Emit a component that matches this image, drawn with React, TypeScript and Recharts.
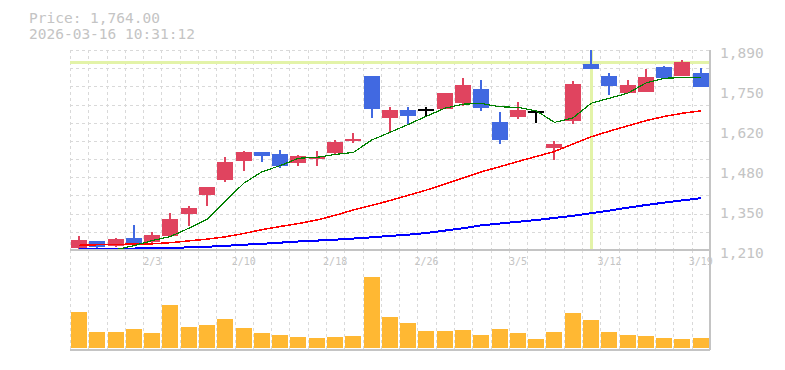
import React from 'react';
import { ComposedChart, Bar, Line, XAxis, YAxis, CartesianGrid, ReferenceLine } from 'recharts';

const dates = ['1/28','1/29','1/30','2/2','2/3','2/4','2/5','2/6','2/9','2/10','2/12','2/13','2/16','2/17','2/18','2/19','2/20','2/24','2/25','2/26','2/27','3/2','3/3','3/4','3/5','3/6','3/9','3/10','3/11','3/12','3/13','3/16','3/17','3/18','3/19'];
const opens = [1218,1241,1225,1251,1238,1259,1333,1398,1449,1514,1543,1536,1507,1520,1541,1582,1802,1660,1686,1686,1689,1711,1757,1645,1663,1679,1558,1650,1842,1802,1745,1748,1832,1803,1812];
const highs = [1258,1241,1251,1295,1271,1336,1361,1424,1526,1547,1543,1550,1533,1547,1584,1608,1802,1695,1695,1695,1745,1796,1788,1679,1713,1684,1581,1785,1890,1812,1788,1825,1836,1856,1829];
const lows = [1210,1212,1221,1235,1235,1255,1292,1361,1442,1480,1510,1490,1497,1497,1533,1575,1660,1612,1636,1665,1689,1701,1684,1571,1656,1643,1517,1639,1826,1737,1745,1748,1791,1803,1764];
const closes = [1244,1221,1247,1235,1261,1315,1354,1424,1509,1543,1531,1497,1530,1527,1577,1588,1690,1686,1667,1686,1745,1772,1694,1585,1687,1679,1570,1775,1826,1768,1771,1798,1796,1849,1764];
const ma5 = [null,null,1211,1225,1242,1256,1284,1315,1376,1437,1476,1497,1522,1525,1535,1542,1584,1610,1637,1665,1692,1706,1708,1697,1695,1683,1644,1659,1709,1726,1743,1778,1794,1796,1797];
const ma25 = [1226,1228,1229,1230,1231,1235,1241,1247,1255,1266,1279,1290,1300,1312,1328,1346,1362,1378,1396,1414,1434,1455,1476,1493,1511,1528,1545,1570,1595,1614,1632,1650,1664,1675,1683];
const ma75 = [1212,1213,1214,1215,1216,1217,1219,1221,1224,1228,1231,1235,1239,1242,1245,1249,1253,1258,1262,1268,1276,1284,1294,1300,1306,1312,1319,1326,1335,1344,1354,1363,1371,1379,1386];
const volumes = [360000,160000,160000,190000,150000,430000,210000,230000,290000,200000,150000,130000,110000,100000,110000,120000,713000,310000,250000,170000,170000,180000,130000,190000,150000,90000,160000,350000,280000,160000,130000,120000,100000,90000,100000];

const xTickDates = ['2/3','2/10','2/18','2/26','3/5','3/12','3/19'];
const yTickValues = [1210,1346,1482,1618,1754,1890];
const yTickLabels = ['1,210','1,350','1,480','1,620','1,750','1,890'];
const priceDomain = [1210, 1890];
const volumeDomain = [-20000, 980000];
const crossPrice = 1848;
const crossDate = '3/11';
const titleLines = ['Price: 1,764.00', '2026-03-16 10:31:12'];
const gridRowCount = 11;

const UP = '#e0445f';
const DOWN = '#4169e1';
const DOJI = '#000000';
const GRID = '#d9d9d9';
const AXIS = '#c4c4c4';
const TEXT = '#c4c4c4';
const FONT = '"DejaVu Sans Mono", monospace';

const rows = dates.map((d, i) => ({
  date: d,
  open: opens[i],
  high: highs[i],
  low: lows[i],
  close: closes[i],
  range: [lows[i], highs[i]],
  ma5: ma5[i],
  ma25: ma25[i],
  ma75: ma75[i],
  volume: volumes[i],
}));

// grid lines sit on the slot boundaries between candles
const verticalGen = (p: any) => {
  const o = p.offset;
  const n = dates.length;
  return Array.from({ length: n }, (_, i) => Math.round(o.left + (o.width * i) / n));
};
const horizontalGen = (p: any) => {
  const o = p.offset;
  return Array.from({ length: gridRowCount }, (_, i) => Math.round(o.top + (o.height * i) / gridRowCount));
};

const Candle = (props: any) => {
  const { x, y, width, height, payload } = props;
  if (payload == null || x == null) return null;
  const { open, close, high, low } = payload;
  const pHigh = Math.min(y, y + height);
  const pLow = Math.max(y, y + height);
  const span = high - low;
  const k = span > 0 ? (pLow - pHigh) / span : 0;
  const yO = pHigh + (high - open) * k;
  const yC = pHigh + (high - close) * k;
  const color = close > open ? UP : close < open ? DOWN : DOJI;
  const cx = Math.round(x + width / 2);
  const top = Math.min(yO, yC);
  const bh = Math.max(Math.abs(yO - yC), 1.5);
  return (
    <g>
      <rect x={cx - 1} y={pHigh} width={2} height={Math.max(pLow - pHigh, 1)} fill={color} />
      {close === open ? (
        <rect x={x} y={yO - 1} width={width} height={2} fill={color} />
      ) : (
        <rect x={x} y={top} width={width} height={bh} fill={color} />
      )}
    </g>
  );
};

const XTick = (p: any) => (
  <text x={p.x} y={p.y + 15} textAnchor="middle" fill={TEXT} fontSize={10} fontFamily={FONT}>
    {p.payload.value}
  </text>
);

const YTick = (p: any) => {
  const idx = yTickValues.indexOf(p.payload.value);
  return (
    <text x={p.x + 10} y={p.y + 8} textAnchor="start" fill={TEXT} fontSize={14.5} fontFamily={FONT}>
      {idx >= 0 ? yTickLabels[idx] : ''}
    </text>
  );
};

export default function App() {
  return (
    <div style={{ position: 'absolute', left: 0, top: 0, width: 785, height: 370, background: '#fff' }}>
      <style>{'.recharts-surface rect, .recharts-surface line, .recharts-surface path { shape-rendering: crispEdges; }'}</style>
      <svg width={785} height={50} style={{ position: 'absolute', left: 0, top: 0 }}>
        {titleLines.map((t, i) => (
          <text key={i} x={29} y={22.5 + i * 16} fill={TEXT} fontSize={14.5} fontFamily={FONT}>{t}</text>
        ))}
      </svg>
      <div style={{ position: 'absolute', left: 0, top: 250 }}>
        <ComposedChart width={785} height={110} data={rows} margin={{ top: 0, right: 15, left: 70, bottom: 9 }}>
          <CartesianGrid horizontal={false} verticalCoordinatesGenerator={verticalGen} stroke={GRID} strokeDasharray="3 3" />
          <XAxis dataKey="date" height={1} tick={false} tickLine={false} axisLine={{ stroke: AXIS, strokeWidth: 2 }} />
          <YAxis orientation="right" width={60} domain={volumeDomain} allowDataOverflow tick={false} tickLine={false} axisLine={{ stroke: AXIS, strokeWidth: 2 }} />
          <Bar dataKey="volume" fill="#ffb833" barSize={16} isAnimationActive={false} />
        </ComposedChart>
      </div>
      <div style={{ position: 'absolute', left: 0, top: 0 }}>
        <ComposedChart width={785} height={270} data={rows} margin={{ top: 50, right: 15, left: 70, bottom: 0 }}>
          <CartesianGrid verticalCoordinatesGenerator={verticalGen} horizontalCoordinatesGenerator={horizontalGen} stroke={GRID} strokeDasharray="3 3" />
          <XAxis dataKey="date" height={20} ticks={xTickDates} interval={0} tickSize={0} tickMargin={0} tickLine={false} axisLine={{ stroke: AXIS, strokeWidth: 2 }} tick={<XTick />} />
          <YAxis orientation="right" width={60} domain={priceDomain} allowDataOverflow ticks={yTickValues} interval={0} tickSize={0} tickMargin={0} tickLine={false} axisLine={{ stroke: AXIS, strokeWidth: 2 }} tick={<YTick />} />
          <ReferenceLine y={crossPrice} stroke="#e3f3a8" strokeWidth={3} zIndex={-50} />
          <ReferenceLine x={crossDate} stroke="#e3f3a8" strokeWidth={3} zIndex={-50} />
          <Bar dataKey="range" barSize={16} shape={<Candle />} isAnimationActive={false} />
          <Line dataKey="ma75" stroke="#0000ff" strokeWidth={2} dot={false} isAnimationActive={false} />
          <Line dataKey="ma25" stroke="#ff0000" strokeWidth={1.5} dot={false} isAnimationActive={false} />
          <Line dataKey="ma5" stroke="#008000" strokeWidth={1.2} dot={false} isAnimationActive={false} />
        </ComposedChart>
      </div>
    </div>
  );
}
